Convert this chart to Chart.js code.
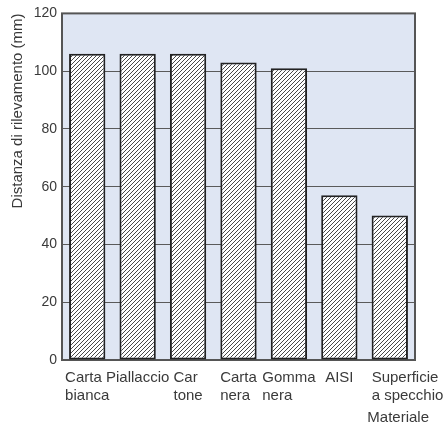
<!DOCTYPE html>
<html lang="it">
<head>
    <meta charset="UTF-8">
    <title>Distanza di rilevamento</title>
    <script src="https://cdn.jsdelivr.net/npm/chart.js"></script>
    <style>
        html, body { margin: 0; padding: 0; background: #fff; }
        #wrap { width: 444px; height: 428px; }
    </style>
</head>
<body>
    <div id="wrap"><canvas id="chart" width="444" height="428"></canvas></div>
    <script>
        // data
        var categories = [
            ['Carta', 'bianca'],
            ['Piallaccio'],
            ['Car', 'tone'],
            ['Carta', 'nera'],
            ['Gomma', 'nera'],
            ['AISI'],
            ['Superficie', 'a specchio']
        ];
        var distances = [106, 106, 106, 103, 101, 57, 50];
        var yTicks = [0, 20, 40, 60, 80, 100, 120];
        var yTitle = 'Distanza di rilevamento (mm)';
        var xTitle = 'Materiale';

        var FONT = "'Liberation Sans', Arial, sans-serif";
        var TEXT = '#3a3a3a';

        // diagonal hatch for the bars
        function hatch() {
            var c = document.createElement('canvas');
            c.width = 4; c.height = 4;
            var g = c.getContext('2d');
            g.fillStyle = '#fff';
            g.fillRect(0, 0, 4, 4);
            g.strokeStyle = '#333';
            g.lineWidth = 0.9;
            g.beginPath();
            g.moveTo(-1, 5); g.lineTo(5, -1);
            g.moveTo(-1, 1); g.lineTo(1, -1);
            g.moveTo(3, 5); g.lineTo(5, 3);
            g.stroke();
            return document.getElementById('chart').getContext('2d').createPattern(c, 'repeat');
        }

        var framePlugin = {
            id: 'frame',
            beforeDraw: function(chart) {
                var a = chart.chartArea, ctx = chart.ctx;
                ctx.save();
                ctx.fillStyle = '#dfe6f3';
                ctx.fillRect(a.left, a.top, a.right - a.left, a.bottom - a.top);
                ctx.restore();
            },
            beforeDatasetsDraw: function(chart) {
                var a = chart.chartArea, ctx = chart.ctx;
                ctx.save();
                ctx.strokeStyle = '#555';
                ctx.lineWidth = 2;
                ctx.strokeRect(a.left, a.top, a.right - a.left, a.bottom - a.top);
                ctx.restore();
            },
            afterDraw: function(chart) {
                // category labels: block centred under its bar, lines left-aligned;
                // if it would run into the previous label it starts at the bar's left edge
                var a = chart.chartArea, ctx = chart.ctx, x = chart.scales.x;
                var bars = chart.getDatasetMeta(0).data;
                ctx.save();
                ctx.font = '15px ' + FONT;
                ctx.fillStyle = TEXT;
                ctx.textAlign = 'left';
                ctx.textBaseline = 'middle';
                var prevRight = -Infinity;
                categories.forEach(function(lines, i) {
                    var widths = lines.map(function(l) { return ctx.measureText(l).width; });
                    var w = Math.max.apply(null, widths);
                    var left = x.getPixelForTick(i) - w / 2;
                    if (left - prevRight < 4) {
                        left = bars[i].x - bars[i].width / 2;
                    }
                    lines.forEach(function(l, j) {
                        ctx.fillText(l, left, a.bottom + 18 + j * 18);
                    });
                    prevRight = left + widths[0];
                });
                ctx.textAlign = 'right';
                ctx.fillText(xTitle, a.right + 14, a.bottom + 58);
                ctx.restore();
            }
        };

        new Chart(document.getElementById('chart'), {
            type: 'bar',
            data: {
                labels: categories,
                datasets: [{
                    data: distances,
                    backgroundColor: hatch(),
                    borderColor: '#222',
                    borderWidth: 2,
                    borderSkipped: false,
                    barPercentage: 0.72,
                    categoryPercentage: 1
                }]
            },
            options: {
                responsive: false,
                animation: false,
                layout: { padding: { top: 9, right: 29, bottom: 68, left: 0 } },
                plugins: {
                    legend: { display: false },
                    tooltip: { enabled: false }
                },
                scales: {
                    x: {
                        grid: { display: false },
                        border: { display: false },
                        ticks: { display: false },
                        afterFit: function(s) { s.height = 0; }
                    },
                    y: {
                        min: 0,
                        max: 120,
                        afterBuildTicks: function(s) {
                            s.ticks = yTicks.map(function(v) { return { value: v }; });
                        },
                        afterFit: function(s) { s.width = 62; },
                        grid: { color: '#5a5a5a', lineWidth: 1, drawTicks: false },
                        border: { display: false },
                        ticks: {
                            padding: 5,
                            color: TEXT,
                            font: { family: FONT, size: 14 }
                        },
                        title: {
                            display: true,
                            text: yTitle,
                            align: 'end',
                            color: TEXT,
                            font: { family: FONT, size: 15 },
                            padding: { top: 9, bottom: 0 }
                        }
                    }
                }
            },
            plugins: [framePlugin]
        });
    </script>
</body>
</html>
